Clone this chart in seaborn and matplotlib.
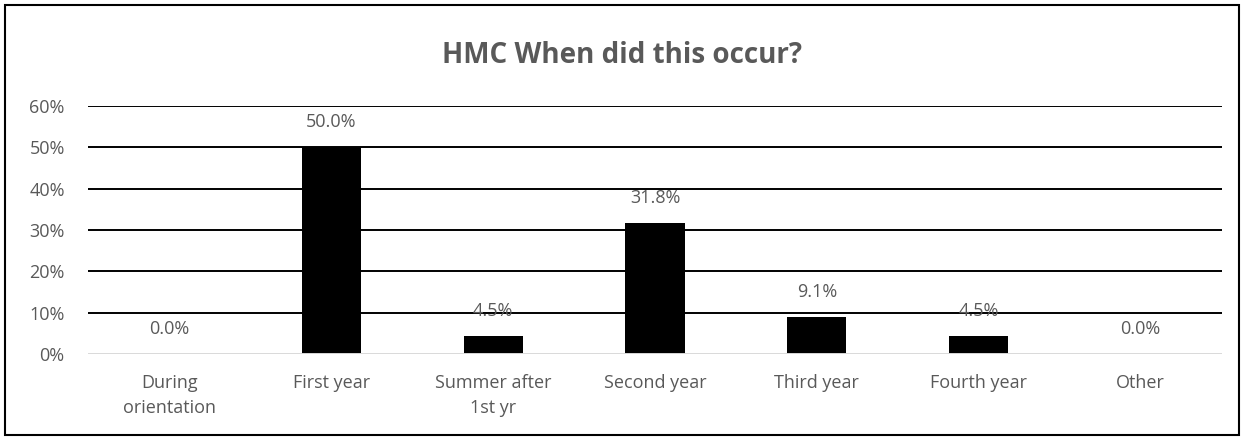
import matplotlib
matplotlib.use("Agg")
import matplotlib.pyplot as plt
import seaborn as sns
import pandas as pd
from matplotlib.ticker import PercentFormatter
from matplotlib.patches import Rectangle

categories = ["During\norientation", "First year", "Summer after\n1st yr", "Second year",
              "Third year", "Fourth year", "Other"]
shares = [0.0, 0.50, 0.045, 0.318, 0.091, 0.045, 0.0]
y_ticks = [0.0, 0.1, 0.2, 0.3, 0.4, 0.5, 0.6]

df = pd.DataFrame({"category": categories, "share": shares})

sns.set_theme(style="white")
plt.rcParams["font.family"] = ["Open Sans", "DejaVu Sans"]
grey = "#595959"

fig, ax = plt.subplots(figsize=(12.44, 4.40), dpi=100)
fig.subplots_adjust(left=0.071, right=0.982, top=0.759, bottom=0.195)

sns.barplot(data=df, x="category", y="share", color="black", width=0.365,
            saturation=1, linewidth=0, ax=ax, zorder=3)

# gridlines
for t in y_ticks[1:]:
    ax.axhline(t, color="black", lw=1.4, zorder=1)
ax.axhline(0, color="#d9d9d9", lw=1.4, zorder=4)

ax.set_ylim(0, 0.6)
ax.set_yticks(y_ticks)
ax.yaxis.set_major_formatter(PercentFormatter(1.0, decimals=0))
ax.tick_params(axis="both", length=0, labelsize=13, colors=grey)
ax.tick_params(axis="y", pad=17)
ax.tick_params(axis="x", pad=14)
for lbl in ax.get_xticklabels():
    lbl.set_linespacing(1.5)
ax.set_xlabel("")
ax.set_ylabel("")
for s in ax.spines.values():
    s.set_visible(False)

for i, v in enumerate(shares):
    ax.annotate(f"{v * 100:.1f}%", (i, v), xytext=(0, 18), textcoords="offset points",
                ha="center", va="center", fontsize=13, color=grey, zorder=5)

fig.suptitle("HMC When did this occur?", fontsize=20, fontweight="bold", color=grey,
             y=0.873, va="center")

fig.patches.append(Rectangle((0.004, 0.012), 0.992, 0.976, transform=fig.transFigure,
                             fill=False, edgecolor="black", lw=1.5))

fig.savefig("out.png", dpi=100)
